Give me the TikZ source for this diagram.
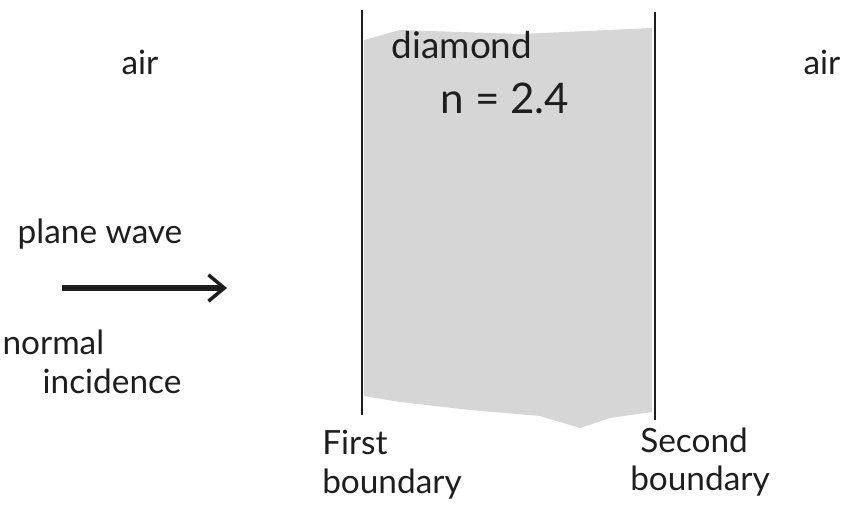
\documentclass[tikz,border=0pt]{standalone}
\usepackage{fontspec}
\setmainfont{Lato}
\usepackage{tikz}
\usetikzlibrary{arrows.meta, positioning, calc}
\definecolor{pencilgray}{HTML}{C9C9C9}
\definecolor{inkdark}{HTML}{1E1E1E}

\begin{document}
\begin{tikzpicture}[x=0.02cm, y=-0.02cm, every node/.style={font=\fontsize{19}{23}\selectfont, text=inkdark, inner sep=1pt},
  boundary/.style={draw=inkdark, line width=1.3pt},
  label2/.style={align=left, font=\fontsize{19}{22}\selectfont}]
  \useasboundingbox (0,0) rectangle (850,524);
  % diamond slab
  \fill[pencilgray!75] (364,40) -- (400,30) -- (520,34) -- (652,28) -- (652,412) -- (610,418)
    -- (580,428) -- (540,416) -- (470,410) -- (400,402) -- (364,396) -- cycle;
  \coordinate (b1top) at (362,10);
  \coordinate (b1bot) at (362,415);
  \coordinate (b2top) at (655,12);
  \coordinate (b2bot) at (655,420);
  \draw[boundary] (b1top) -- (b1bot);
  \draw[boundary] (b2top) -- (b2bot);
  \node (airl) at (140,62) {air};
  \node (airr) at (822,62) {air};
  \node[font=\fontsize{21}{25}\selectfont] (diam) at (462,45) {diamond};
  \node[font=\fontsize{24}{28}\selectfont] (nval) at (505,98) {n = 2.4};
  % incoming wave
  \node (wave) at (100,234) {plane wave};
  \coordinate (arrs) at (62,288);
  \coordinate (arre) at (227,288);
  \draw[line width=3.5pt, draw=inkdark, -{Straight Barb[length=9pt, width=15pt, line width=2pt]}] (arrs) -- (arre);
  \node[label2] (inc) at (92,362) {normal\\\hspace{1.2em}incidence};
  \node[label2] (first) at (392,465) {First\\boundary};
  \node[label2] (second) at (700,462) {\hspace{0.3em}Second\\boundary};
\end{tikzpicture}
\end{document}
